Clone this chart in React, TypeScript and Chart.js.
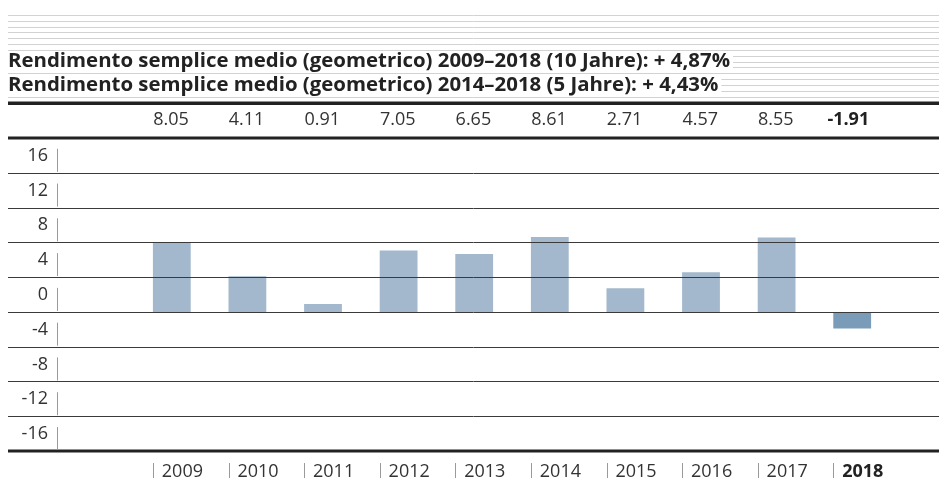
import React, { useEffect, useRef } from 'react';
import { Chart, registerables } from 'chart.js';

Chart.register(...registerables);

// ---- data ----
const years: string[] = ['2009', '2010', '2011', '2012', '2013', '2014', '2015', '2016', '2017', '2018'];
const returns: number[] = [8.05, 4.11, 0.91, 7.05, 6.65, 8.61, 2.71, 4.57, 8.55, -1.91];
const valueLabels: string[] = ['8.05', '4.11', '0.91', '7.05', '6.65', '8.61', '2.71', '4.57', '8.55', '-1.91'];
const titleLines: string[] = [
  'Rendimento semplice medio (geometrico) 2009–2018 (10 Jahre): + 4,87%',
  'Rendimento semplice medio (geometrico) 2014–2018 (5 Jahre): + 4,43%',
];
const yMin = -16;
const yMax = 20;
const yStep = 4;
const highlightIndex = years.length - 1;

// ---- styles ----
const FONT = '"Open Sans", "Noto Sans", sans-serif';
const BAR = '#a3b8cd';
const BAR_HI = '#7b9cb8';
const TEXT = '#333333';
const DARK = '#222222';

const decorPlugin = {
  id: 'decor',
  beforeDraw(chart: any) {
    const ctx = chart.ctx as CanvasRenderingContext2D;
    const W = chart.width;
    ctx.save();
    // light stripes at top
    ctx.strokeStyle = '#d2d2d2';
    ctx.lineWidth = 1;
    for (let k = 0; k < 15; k++) {
      const y = Math.round(15 + k * 5.83) + 0.5;
      ctx.beginPath();
      ctx.moveTo(8, y);
      ctx.lineTo(W, y);
      ctx.stroke();
    }
    // title lines with white background
    ctx.font = `bold 19px ${FONT}`;
    const natural = ctx.measureText(titleLines[0]).width;
    const sx = 722 / natural;
    titleLines.forEach((t, i) => {
      const base = 66.5 + i * 24;
      const w = ctx.measureText(t).width * sx;
      ctx.fillStyle = '#ffffff';
      ctx.fillRect(8, base - 15, w + 3, 20);
      ctx.save();
      ctx.translate(8, base);
      ctx.scale(sx, 1);
      ctx.fillStyle = DARK;
      ctx.textBaseline = 'alphabetic';
      ctx.textAlign = 'left';
      ctx.fillText(t, 0, 0);
      ctx.restore();
    });
    // thick line above value row
    const top = chart.scales.xTop;
    ctx.fillStyle = DARK;
    ctx.fillRect(8, top.top - 3.5, W - 8, 3.5);
    ctx.restore();
  },
  afterDatasetsDraw(chart: any) {
    const ctx = chart.ctx as CanvasRenderingContext2D;
    const W = chart.width;
    const y = chart.scales.y;
    const xb = chart.scales.x;
    ctx.save();
    y.ticks.forEach((t: any) => {
      const py = y.getPixelForValue(t.value);
      const edge = t.value === yMin || t.value === yMax;
      if (edge) {
        ctx.fillStyle = DARK;
        ctx.fillRect(8, py - 1.5, W - 8, 3);
      } else {
        ctx.strokeStyle = '#3a3a3a';
        ctx.lineWidth = 1;
        const ry = Math.round(py) + 0.5;
        ctx.beginPath();
        ctx.moveTo(8, ry);
        ctx.lineTo(W, ry);
        ctx.stroke();
      }
      if (t.value !== yMax) {
        ctx.strokeStyle = '#9a9a9a';
        ctx.lineWidth = 1;
        ctx.beginPath();
        ctx.moveTo(57.5, py - 24);
        ctx.lineTo(57.5, py - 1);
        ctx.stroke();
      }
    });
    // pipes before year labels
    const meta = chart.getDatasetMeta(0);
    meta.data.forEach((bar: any) => {
      const x = Math.round(bar.x - bar.width / 2) + 0.5;
      ctx.strokeStyle = '#9a9a9a';
      ctx.lineWidth = 1;
      ctx.beginPath();
      ctx.moveTo(x, xb.top + 12);
      ctx.lineTo(x, xb.top + 27);
      ctx.stroke();
    });
    ctx.restore();
  },
};

const tickFont = (c: any) => ({
  family: FONT,
  size: 18,
  weight: c.index === highlightIndex ? 'bold' : 'normal',
});
const tickColor = (c: any) => (c.index === highlightIndex ? DARK : TEXT);

export default function App() {
  const ref = useRef<HTMLCanvasElement | null>(null);

  useEffect(() => {
    if (!ref.current) return;
    const chart = new Chart(ref.current, {
      type: 'bar',
      data: {
        labels: years,
        datasets: [
          {
            data: returns,
            backgroundColor: returns.map((_, i) => (i === highlightIndex ? BAR_HI : BAR)),
            borderWidth: 0,
            barPercentage: 0.5,
            categoryPercentage: 1,
            xAxisID: 'x',
            yAxisID: 'y',
          },
        ],
      },
      options: {
        animation: false,
        responsive: true,
        maintainAspectRatio: false,
        devicePixelRatio: 1,
        layout: { padding: { top: 105, right: 49, bottom: 0, left: 0 } },
        plugins: {
          legend: { display: false },
          tooltip: { enabled: false },
          title: { display: false },
        },
        scales: {
          x: {
            type: 'category',
            position: 'bottom',
            offset: true,
            grid: { display: false, drawTicks: false },
            border: { display: false },
            ticks: {
              align: 'start',
              labelOffset: -10,
              padding: 10,
              autoSkip: false,
              maxRotation: 0,
              minRotation: 0,
              color: tickColor,
              font: tickFont,
            },
            afterFit: (s: any) => {
              s.height = 28;
              s.paddingLeft = 0;
              s.paddingRight = 0;
            },
          },
          xTop: {
            type: 'category',
            position: 'top',
            labels: valueLabels,
            offset: true,
            grid: { display: false, drawTicks: false },
            border: { display: false },
            ticks: {
              align: 'end',
              labelOffset: 17,
              padding: 7,
              autoSkip: false,
              maxRotation: 0,
              minRotation: 0,
              color: tickColor,
              font: tickFont,
            },
            afterFit: (s: any) => {
              s.height = 33;
              s.paddingLeft = 0;
              s.paddingRight = 0;
            },
          },
          y: {
            type: 'linear',
            min: yMin,
            max: yMax,
            grid: { display: false, drawTicks: false },
            border: { display: false },
            ticks: {
              stepSize: yStep,
              padding: 86,
              labelOffset: -17,
              color: TEXT,
              font: { family: FONT, size: 18 },
              callback: (v: any) => (v === yMax ? '' : String(v)),
            },
            afterFit: (s: any) => {
              s.width = 134;
              s.paddingTop = 0;
              s.paddingBottom = 0;
            },
          },
        },
      } as any,
      plugins: [decorPlugin],
    });
    return () => chart.destroy();
  }, []);

  return (
    <div style={{ position: 'absolute', left: 0, top: 0, width: 939, height: 479, background: '#fff' }}>
      <canvas ref={ref} />
    </div>
  );
}
